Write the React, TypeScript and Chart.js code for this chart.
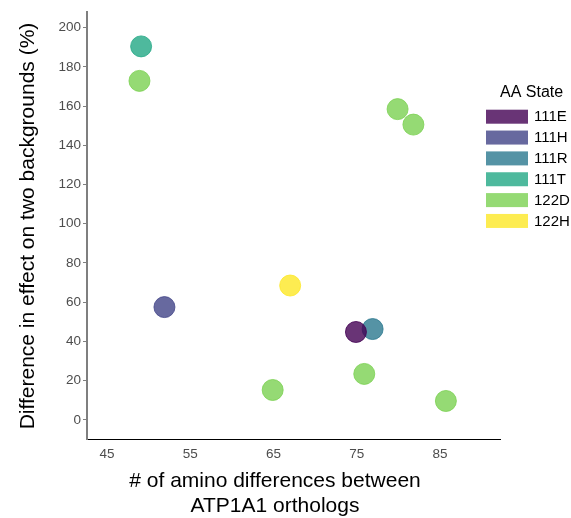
import { useEffect, useRef } from 'react';
import { Chart, registerables } from 'chart.js';
Chart.register(...registerables);

const stateNames = ['111E', '111H', '111R', '111T', '122D', '122H'];
const stateColors = [
  'rgba(68,1,84,0.8)',
  'rgba(65,68,135,0.8)',
  'rgba(42,120,142,0.8)',
  'rgba(34,168,132,0.8)',
  'rgba(122,209,81,0.8)',
  'rgba(253,231,37,0.8)',
];
const aminoDiffs = [49.1, 48.9, 79.9, 81.8, 67.0, 51.9, 74.9, 76.9, 75.9, 64.9, 85.7];
const effectDiffs = [190.5, 172.9, 158.5, 150.6, 68.5, 57.5, 44.8, 46.3, 23.4, 15.2, 9.6];
const pointStates = ['111T', '122D', '122D', '122D', '122H', '111H', '111E', '111R', '122D', '122D', '122D'];
const xTicks = [45, 55, 65, 75, 85];
const yTicks = [0, 20, 40, 60, 80, 100, 120, 140, 160, 180, 200];
const xTitleLines = ['# of amino differences between', 'ATP1A1 orthologs'];
const yTitle = 'Difference in effect on two backgrounds (%)';
const legendTitle = 'AA State';

const FONT = "'Liberation Sans', Arial, sans-serif";

export default function App() {
  const ref = useRef<HTMLCanvasElement>(null);
  useEffect(() => {
    document.body.style.margin = '0';
    const datasets = stateNames.map((s, i) => ({
      label: s,
      data: aminoDiffs
        .map((x, j) => ({ x, y: effectDiffs[j], s: pointStates[j] }))
        .filter((p) => p.s === s)
        .map((p) => ({ x: p.x, y: p.y })),
      backgroundColor: stateColors[i],
      borderColor: stateColors[i],
      borderWidth: 1,
      pointRadius: 10.5,
      pointHoverRadius: 10.5,
    }));

    const overlay = {
      id: 'overlay',
      afterDraw(chart: any) {
        const ctx = chart.ctx;
        ctx.save();
        ctx.fillStyle = '#000';
        ctx.font = `21px ${FONT}`;
        ctx.textAlign = 'center';
        ctx.textBaseline = 'alphabetic';
        ctx.fillText(xTitleLines[0], 275, 487);
        ctx.fillText(xTitleLines[1], 275, 512);
        ctx.translate(34, 226);
        ctx.rotate(-Math.PI / 2);
        ctx.fillText(yTitle, 0, 0);
        ctx.restore();

        ctx.save();
        ctx.textBaseline = 'middle';
        ctx.textAlign = 'left';
        ctx.fillStyle = '#000';
        ctx.font = `16px ${FONT}`;
        ctx.fillText(legendTitle, 500, 93);
        ctx.font = `15px ${FONT}`;
        stateNames.forEach((s, i) => {
          const cy = 116.7 + i * 20.85;
          ctx.fillStyle = stateColors[i];
          ctx.fillRect(486, cy - 7, 42, 14);
          ctx.fillStyle = '#000';
          ctx.fillText(s, 534, cy + 0.5);
        });
        ctx.restore();
      },
    };

    const chart = new Chart(ref.current!, {
      type: 'scatter',
      data: { datasets },
      options: {
        animation: false,
        responsive: false,
        layout: { padding: { top: 9, right: 71, left: 0, bottom: 0 } },
        plugins: { legend: { display: false }, tooltip: { enabled: false } },
        scales: {
          x: {
            type: 'linear',
            min: 42.6,
            max: 92.2,
            afterBuildTicks: (scale: any) => {
              scale.ticks = xTicks.map((v) => ({ value: v }));
            },
            afterFit: (scale: any) => {
              scale.height = 79;
            },
            grid: { drawOnChartArea: false, drawTicks: true, tickLength: 4, color: 'rgba(0,0,0,0)' },
            border: { display: true, color: '#000', width: 1 },
            ticks: { color: '#4d4d4d', font: { family: FONT, size: 13.5 }, padding: 3, maxRotation: 0 },
          },
          y: {
            type: 'linear',
            min: -9.8,
            max: 208.3,
            afterBuildTicks: (scale: any) => {
              scale.ticks = yTicks.map((v) => ({ value: v }));
            },
            afterFit: (scale: any) => {
              scale.width = 87;
            },
            grid: { drawOnChartArea: false, drawTicks: true, tickLength: 4, color: '#7f7f7f' },
            border: { display: true, color: '#7f7f7f', width: 2 },
            ticks: { color: '#4d4d4d', font: { family: FONT, size: 13.5 }, padding: 2 },
          },
        },
      },
      plugins: [overlay],
    });
    return () => chart.destroy();
  }, []);
  return <canvas ref={ref} width={571} height={518} style={{ display: 'block' }} />;
}
